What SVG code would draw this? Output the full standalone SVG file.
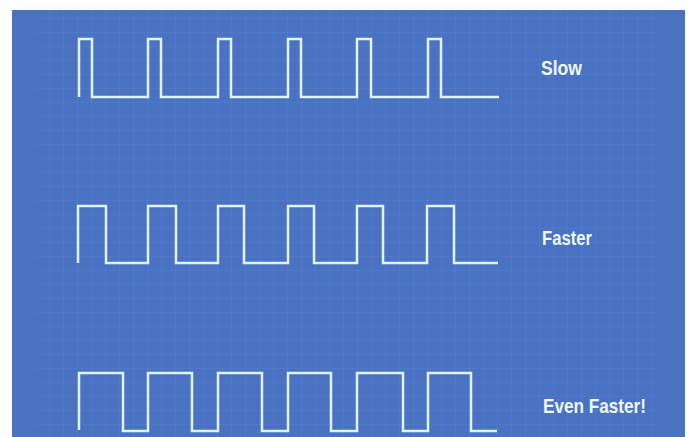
<svg xmlns="http://www.w3.org/2000/svg" width="689" height="437" viewBox="0 0 689 437">
  <defs>
    <pattern id="grid" x="36" y="5" width="14" height="14" patternUnits="userSpaceOnUse">
      <path d="M14 0 V14 M0 14 H14" fill="none" stroke="#6a8fd6" stroke-width="1" opacity="0.45"/>
    </pattern>
    <style>
      .wave { fill: none; stroke: #dff3f8; stroke-width: 2.5; stroke-linejoin: miter; stroke-linecap: butt; }
      .lbl { font-family: "Liberation Sans", Arial, sans-serif; font-weight: bold; fill: #eef7f6; }
    </style>
  </defs>
  <rect x="0" y="0" width="689" height="437" fill="#ffffff"/>
  <rect x="12" y="10" width="673" height="427" fill="#4a72c3"/>
  <rect x="36" y="10" width="621" height="427" fill="url(#grid)"/>

  <g id="slow">
    <path class="wave" d="M79 97 V39 H92 V97 H148 V39 H161 V97 H218 V39 H231 V97 H288 V39 H301 V97 H357 V39 H371 V97 H428 V39 H441 V97 H499"/>
    <text class="lbl" x="541" y="75" font-size="20" textLength="41" lengthAdjust="spacingAndGlyphs">Slow</text>
  </g>

  <g id="faster">
    <path class="wave" d="M78 263 V206 H106 V263 H148 V206 H176 V263 H218 V206 H244 V263 H288 V206 H314 V263 H357 V206 H383 V263 H427 V206 H454 V263 H498"/>
    <text class="lbl" x="542" y="245" font-size="21" textLength="50" lengthAdjust="spacingAndGlyphs">Faster</text>
  </g>

  <g id="even-faster">
    <path class="wave" d="M79 430 V373 H123 V431 H148 V373 H192 V431 H218 V373 H262 V431 H288 V373 H331 V431 H357 V373 H403 V431 H428 V373 H471 V431 H497"/>
    <text class="lbl" x="543" y="413" font-size="21" textLength="103" lengthAdjust="spacingAndGlyphs">Even Faster!</text>
  </g>
</svg>
